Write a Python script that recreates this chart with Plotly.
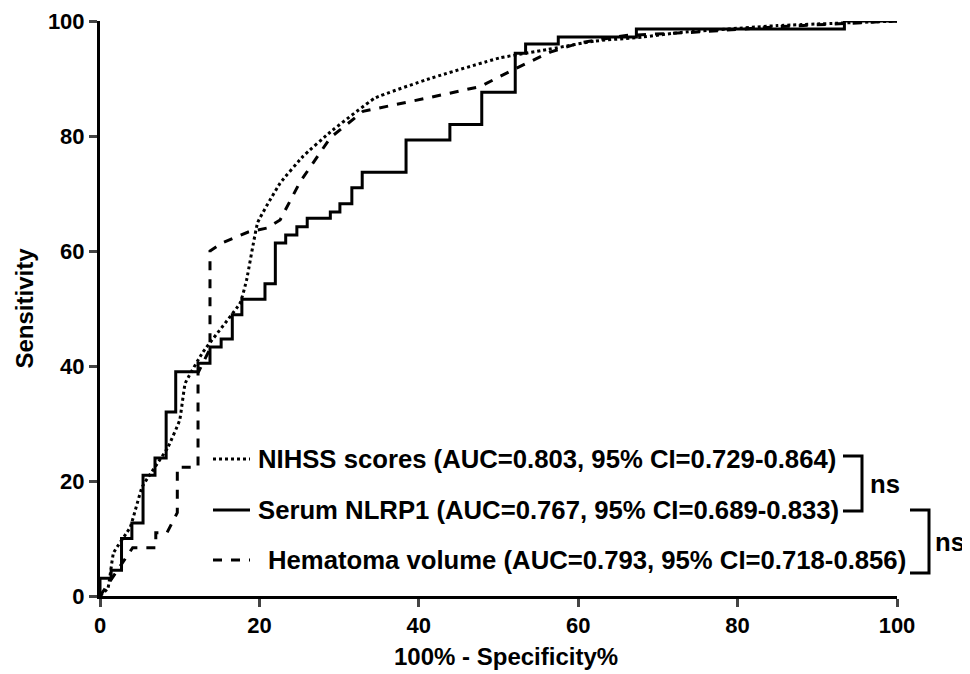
import plotly.graph_objects as go

nlrp1_x = [0, 0, 1.4, 2.7, 4.0, 5.4, 6.9, 8.3, 9.5, 12.3, 13.8, 15.2, 16.6, 17.8, 20.7, 22.0, 23.3, 24.7, 26.0, 28.9, 30.1, 31.6, 32.9, 38.4, 43.9, 47.9, 52.1, 53.4, 57.5, 67.3, 93.4, 100]
nlrp1_y = [0, 3.1, 4.5, 10.0, 12.7, 21.0, 24.0, 32.0, 39.0, 40.5, 43.3, 44.7, 48.9, 51.6, 54.3, 61.4, 62.8, 64.2, 65.7, 66.8, 68.2, 71.0, 73.7, 79.3, 82.0, 87.6, 94.4, 96.0, 97.2, 98.6, 100, 100]

nihss_x = [0, 1.0, 1.7, 3.8, 5.3, 8.5, 10.0, 10.7, 12.9, 17.6, 18.4, 19.8, 22.6, 25.5, 28.9, 34.5, 41.4, 50.2, 56.0, 62.0, 68.0, 72.8, 85.0, 100]
nihss_y = [0, 1.4, 7.5, 12.0, 19.0, 25.8, 30.6, 37.0, 42.4, 51.0, 55.0, 65.0, 71.8, 76.5, 80.7, 86.6, 90.0, 93.6, 95.0, 96.5, 97.2, 98.0, 99.2, 100]

hema_x = [0, 1.5, 3.0, 4.1, 7.0, 7.0, 8.4, 9.7, 9.7, 10.5, 12.3, 12.3, 13.8, 13.8, 15.3, 18.6, 21.0, 22.6, 25.1, 28.9, 33.0, 41.4, 47.7, 51.8, 56.5, 60.2, 66.0, 74.0, 85.0, 100]
hema_y = [0, 3.0, 6.0, 8.4, 8.4, 11.0, 11.0, 14.5, 22.4, 22.4, 22.4, 38.8, 43.0, 60.0, 61.4, 63.3, 64.0, 65.4, 72.0, 79.7, 84.3, 86.7, 88.6, 91.5, 94.6, 96.2, 97.5, 98.0, 99.0, 100]

labels = ["NIHSS scores (AUC=0.803, 95% CI=0.729-0.864)",
          "Serum NLRP1 (AUC=0.767, 95% CI=0.689-0.833)",
          "Hematoma volume (AUC=0.793, 95% CI=0.718-0.856)"]

fig = go.Figure()
fig.add_trace(go.Scatter(x=nihss_x, y=nihss_y, mode="lines", line=dict(color="black", width=3, dash="dot", shape="spline", smoothing=0.3)))
fig.add_trace(go.Scatter(x=nlrp1_x, y=nlrp1_y, mode="lines", line=dict(color="black", width=3, shape="hv")))
fig.add_trace(go.Scatter(x=hema_x, y=hema_y, mode="lines", line=dict(color="black", width=3, dash="dash")))

W, H = 797.0, 575.0
def px(x): return (x - 100) / W
def py(y): return (596 - y) / H

shapes = []
anns = []
font = dict(family="Liberation Sans, Arial", size=25.7, color="black", weight="bold")
dashes = ["dot", "solid", "dash"]
rows = [459, 510, 560]
textx = [256, 256, 266]
for lab, d, r, tx in zip(labels, dashes, rows, textx):
    shapes.append(dict(type="line", xref="paper", yref="paper", x0=px(213), x1=px(250), y0=py(r), y1=py(r),
                       line=dict(color="black", width=3, dash=d)))
    anns.append(dict(text=lab, xref="paper", yref="paper", x=px(tx), y=py(r),
                     xanchor="left", yanchor="middle", showarrow=False, font=font))
for (x0, x1, y0, y1, tx) in [(843, 862, 456, 511, 868), (910, 929, 510, 573, 933)]:
    shapes.append(dict(type="path", xref="paper", yref="paper",
                       path="M %f %f L %f %f L %f %f L %f %f" % (px(x0), py(y0), px(x1), py(y0), px(x1), py(y1), px(x0), py(y1)),
                       line=dict(color="black", width=3)))
    anns.append(dict(text="ns", xref="paper", yref="paper", x=px(tx), y=py((y0 + y1) / 2),
                     xanchor="left", yanchor="middle", showarrow=False, font=font))

axfont = dict(family="Liberation Sans, Arial", size=22, color="black", weight="bold")
titlefont = dict(family="Liberation Sans, Arial", size=24, color="black", weight="bold")
anns.append(dict(text="100% - Specificity%", xref="paper", yref="paper", x=px(506), y=py(656),
                 xanchor="center", yanchor="middle", showarrow=False, font=titlefont))
fig.update_layout(
    width=970, height=666, showlegend=False, plot_bgcolor="white", paper_bgcolor="white",
    margin=dict(l=92, r=81, t=13, b=78, autoexpand=False),
    shapes=shapes, annotations=anns,
    xaxis=dict(range=[0, 100], tickvals=[0, 20, 40, 60, 80, 100], showgrid=False, zeroline=False, automargin=False,
               showline=True, linecolor="black", linewidth=3, ticks="outside", ticklen=8, tickwidth=3,
               tickfont=axfont),
    yaxis=dict(range=[0, 100], tickvals=[0, 20, 40, 60, 80, 100], showgrid=False, zeroline=False, automargin=False,
               showline=True, linecolor="black", linewidth=3, ticks="outside", ticklen=8, tickwidth=3,
               tickfont=axfont, title=dict(text="Sensitivity", font=titlefont, standoff=8)),
)
fig.write_html("out.html")
